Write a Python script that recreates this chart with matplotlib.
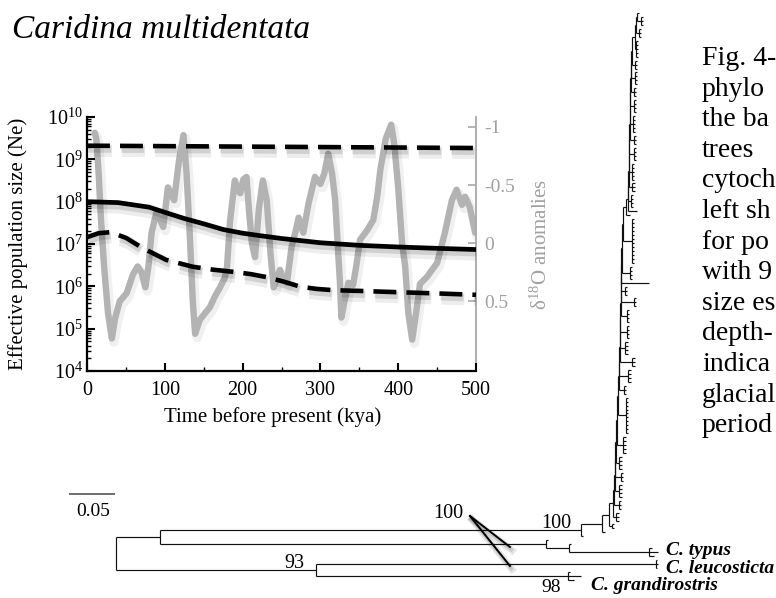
import numpy as np
import matplotlib
matplotlib.use('Agg')
import matplotlib.pyplot as plt
import matplotlib.patheffects as pe
from matplotlib.collections import LineCollection
from matplotlib.lines import Line2D
from matplotlib.ticker import LogLocator, LogFormatterMathtext, MultipleLocator, FixedLocator, FixedFormatter, NullFormatter

plt.rcParams['font.family'] = ['Liberation Serif', 'DejaVu Serif']
plt.rcParams['mathtext.fontset'] = 'custom'
plt.rcParams['mathtext.rm'] = 'Liberation Serif'
plt.rcParams['mathtext.it'] = 'Liberation Serif:italic'
plt.rcParams['mathtext.bf'] = 'Liberation Serif:bold'

# ---------------- inset data (skyline plot) ----------------
median_time = [0, 40, 80, 100, 125, 150, 175, 200, 225, 250, 275, 300, 350, 400, 450, 500]
median_ne = [1.0e8, 9.5e7, 7.4e7, 5.6e7, 4.0e7, 3.0e7, 2.2e7, 1.8e7, 1.55e7, 1.35e7,
             1.2e7, 1.07e7, 9.3e6, 8.5e6, 7.9e6, 7.4e6]
upper_time = [0, 100, 200, 300, 400, 500]
upper_ne = [2.1e9, 2.05e9, 2.0e9, 1.95e9, 1.9e9, 1.85e9]
lower_time = [0, 15, 30, 50, 72, 102, 136, 160, 188, 210, 231, 255, 274, 295, 317, 350, 387, 450, 500]
lower_ne = [1.45e7, 1.8e7, 1.9e7, 1.4e7, 7.9e6, 4.2e6, 2.9e6, 2.5e6, 2.2e6, 1.95e6, 1.65e6,
            1.26e6, 9.8e5, 8.7e5, 8.1e5, 7.8e5, 7.4e5, 6.8e5, 6.3e5]

d18o_time = [10, 12, 15, 18, 22, 27, 32, 36, 42, 51, 59, 65, 70, 75, 79, 83, 89, 94, 98, 104,
             108, 112, 118, 124, 128, 132, 136, 139, 145, 152, 158, 165, 171, 177, 180, 184, 190,
             194, 197, 201, 205, 208, 212, 216, 221, 226, 231, 236, 240, 244, 248, 252, 257, 263,
             268, 272, 278, 285, 293, 300, 305, 310, 315, 319, 323, 325, 327, 331, 336, 342, 346,
             351, 360, 368, 373, 377, 384, 391, 395, 400, 405, 409, 413, 418, 423, 428, 437, 450,
             460, 469, 475, 482, 486, 492, 499]
d18o_val = [-0.95, -0.9, -0.6, -0.2, 0.2, 0.6, 0.82, 0.65, 0.5, 0.43, 0.27, 0.2, 0.25, 0.38, 0.2,
            -0.09, -0.26, -0.2, -0.14, -0.48, -0.42, -0.37, -0.7, -0.93, -0.6, -0.09, 0.5, 0.78,
            0.66, 0.6, 0.55, 0.45, 0.38, 0.3, 0.2, -0.2, -0.54, -0.45, -0.43, -0.55, -0.57, -0.3,
            0.0, 0.12, -0.3, -0.54, -0.37, 0.1, 0.38, 0.3, 0.23, 0.3, 0.34, 0.03, -0.1, -0.22,
            -0.09, -0.35, -0.57, -0.51, -0.6, -0.77, -0.6, -0.37, 0.1, 0.32, 0.64, 0.5, 0.34, 0.36,
            0.2, -0.03, -0.11, -0.2, -0.4, -0.63, -0.9, -1.02, -0.85, -0.48, 0.0, 0.2, 0.6, 0.83,
            0.6, 0.35, 0.29, 0.17, -0.09, -0.37, -0.46, -0.33, -0.4, -0.31, -0.09]

x_ticks = [0, 100, 200, 300, 400, 500]
d18o_ticks = [-1, -0.5, 0, 0.5]
d18o_tick_labels = ['-1', '-0.5', '0', '0.5']

# ---------------- tree data (depths in substitutions/site from the root) ----------------
# backbone of the C. multidentata clade, from its base upward
bb_depth = [0.5054, 0.5283, 0.5359, 0.5402, 0.5413, 0.5424, 0.5429, 0.5435, 0.5446, 0.5457,
            0.5467, 0.5467, 0.5473, 0.5478, 0.5478, 0.5484, 0.5484, 0.5489, 0.5489, 0.5500,
            0.5511, 0.5543, 0.5565, 0.5565, 0.5571, 0.5576, 0.5576, 0.5582, 0.5587, 0.5587,
            0.5598, 0.5603, 0.5609, 0.5641, 0.5652, 0.5663]
side_n = [1, 1, 2, 3, 3, 4, 3, 4, 5, 10, 3, 4, 3, 4, 4, 4, 3, 3, 1, 4, 12, 1,
          1, 4, 3, 5, 4, 3, 5, 4, 3, 4, 3, 5, 3, 3]
side_stem = [0.0022, 0.0033, 0.0033, 0.0033, 0.0054, 0.0043, 0.0065, 0.0033, 0.0065, 0.0087,
             0.0054, 0.0098, 0.0141, 0.0054, 0.0076, 0.0065, 0.0141, 0.0043, 0.0304, 0.0087,
             0.0098, 0.0043, 0.0098, 0.0033, 0.0043, 0.0033, 0.0054, 0.0043, 0.0033, 0.0043,
             0.0033, 0.0043, 0.0033, 0.0011, 0.0033, 0.0043]
side_twig = [0.0, 0.0, 0.0022, 0.0033, 0.0022, 0.0033, 0.0022, 0.0033, 0.0033, 0.0022,
             0.0022, 0.0033, 0.0022, 0.0033, 0.0022, 0.0022, 0.0022, 0.0022, 0.0, 0.0022,
             0.0022, 0.0, 0.0, 0.0022, 0.0022, 0.0022, 0.0022, 0.0022, 0.0022, 0.0022,
             0.0022, 0.0022, 0.0022, 0.0022, 0.0022, 0.0022]
top_tip_len = 0.0022
node_a_depth = 0.0478
node_b_depth = 0.2174
typus_nodes = [0.4674, 0.4924, 0.5793]
typus_tips = [0.4696, 0.4946, 0.5826, 0.5891, 0.5848]
leuco_node = 0.5870
leuco_tips = [0.5880, 0.5891, 0.5880]
grandi_node = 0.4913
grandi_tips = [0.4935, 0.5054, 0.4978]
scale_bar = 0.05

# caption column (the part visible inside the frame)
caption = ['Fig. 4-', 'phylo', 'the ba', 'trees', 'cytoch', 'left sh', 'for po',
           'with 9', 'size es', 'depth-', 'indica', 'glacial', 'period']

# ---------------- figure ----------------
W, H = 776, 598
fig = plt.figure(figsize=(W / 100, H / 100), dpi=100)


def fx(px):
    return px / W


def fy(py):
    return 1 - py / H


# ---- tree ----
def tip(x):
    return {'x': x, 'ch': []}


def node(x, ch):
    return {'x': x, 'ch': ch}


def side(x0, n, stem, twig):
    if n == 1:
        return tip(x0 + stem)
    return node(x0 + stem, [tip(x0 + stem + twig) for _ in range(n)])


def ladder(k):
    x = bb_depth[k]
    s = side(x, side_n[k], side_stem[k], side_twig[k])
    up = ladder(k + 1) if k + 1 < len(bb_depth) else tip(x + top_tip_len)
    return node(x, [up, s])


typus = node(typus_nodes[0], [tip(typus_tips[0]),
             node(typus_nodes[1], [tip(typus_tips[1]),
                  node(typus_nodes[2], [tip(t) for t in typus_tips[2:]])])])
leuco = node(leuco_node, [tip(t) for t in leuco_tips])
grandi = node(grandi_node, [tip(t) for t in grandi_tips])
root = node(0.0, [node(node_a_depth, [ladder(0), typus]),
                  node(node_b_depth, [leuco, grandi])])

counter = [0]


def layout(nd):
    if not nd['ch']:
        nd['y'] = counter[0]
        counter[0] += 1
    else:
        for c in nd['ch']:
            layout(c)
        nd['y'] = 0.5 * (nd['ch'][0]['y'] + nd['ch'][-1]['y'])


layout(root)
n_tips = counter[0]
segs = []


def collect(nd):
    if nd['ch']:
        segs.append([(nd['x'], nd['ch'][0]['y']), (nd['x'], nd['ch'][-1]['y'])])
        for c in nd['ch']:
            segs.append([(nd['x'], c['y']), (c['x'], c['y'])])
            collect(c)


collect(root)

top_px, bottom_px = 13.0, 580.0
step = (bottom_px - top_px) / (n_tips - 1)
px_per_unit = 920.0
root_px = 116.0
axt = fig.add_axes([0, 0, 1, 1])
axt.set_xlim(-root_px / px_per_unit, (W - root_px) / px_per_unit)
axt.set_ylim((H - top_px) / step, -top_px / step)
axt.axis('off')
axt.add_collection(LineCollection(segs, colors='#111111', linewidths=0.85))

# scale bar
axt.plot([-(root_px - 69) / px_per_unit, -(root_px - 69) / px_per_unit + scale_bar],
         [(494 - top_px) / step] * 2, color='#555555', lw=1.2, solid_capstyle='butt')
fig.text(fx(93), fy(511), '0.05', ha='center', va='center', fontsize=14)

# tip labels
lab = dict(fontsize=14, fontweight='bold', fontstyle='italic', va='baseline', ha='left')
fig.text(fx(666), fy(555), 'C. typus', **lab)
fig.text(fx(666), fy(573), 'C. leucosticta', **lab)
fig.text(fx(591), fy(590), 'C. grandirostris', **lab)

# support values
sup = dict(fontsize=14.5, ha='center', va='center')
fig.text(fx(448), fy(514), '100', **sup)
fig.text(fx(556), fy(524), '100', **sup)
fig.text(fx(294), fy(563), '93', **sup)
fig.text(fx(551), fy(588), '98', fontsize=14, ha='center', va='center')
shadow = [pe.SimpleLineShadow(offset=(1.5, -2.5), shadow_color='k', alpha=0.10, linewidth=5),
          pe.SimpleLineShadow(offset=(1.0, -2.0), shadow_color='k', alpha=0.12, linewidth=2.5),
          pe.Normal()]
for ty in (547, 566):
    fig.add_artist(Line2D([fx(470), fx(510)], [fy(516), fy(ty)], transform=fig.transFigure,
                          color='k', lw=1.4, path_effects=shadow))

# ---- title and caption text ----
fig.text(fx(12), fy(38), 'Caridina multidentata', fontsize=24, fontstyle='italic',
         va='baseline', ha='left')
for i, line in enumerate(caption):
    fig.text(fx(702), fy(65 + i * 30.6), line, fontsize=20, va='baseline', ha='left')

# ---- inset ----
ax = fig.add_axes([fx(87), fy(371), fx(476) - fx(87), fy(117) - fy(371)])
ax2 = ax.twinx()
ax.set_zorder(ax2.get_zorder() + 1)
ax.patch.set_visible(False)

gray = '#b3b3b3'
gshadow = [pe.SimpleLineShadow(offset=(1.5, -2.5), shadow_color='k', alpha=0.06, linewidth=7),
           pe.Normal()]
ax2.plot(d18o_time, d18o_val, color=gray, lw=4.6, solid_joinstyle='round',
         solid_capstyle='round', path_effects=gshadow)
ax2.set_ylim(1.10, -1.086)
ax2.yaxis.set_major_locator(FixedLocator(d18o_ticks))
ax2.yaxis.set_major_formatter(FixedFormatter(d18o_tick_labels))
ax2.tick_params(axis='y', direction='in', length=6, width=1.2, color='#a8a8a8',
                labelcolor='#a0a0a0', labelsize=14, pad=6)
for s in ('top', 'left', 'bottom'):
    ax2.spines[s].set_visible(False)
ax2.spines['right'].set_color('#a8a8a8')
ax2.spines['right'].set_linewidth(1.3)
ax2.set_ylabel(r'δ$^{18}$O anomalies', color='#a0a0a0', fontsize=15, rotation=90)
ax2.yaxis.set_label_coords(1.141, 0.5)

bshadow = [pe.SimpleLineShadow(offset=(1.5, -3.5), shadow_color='k', alpha=0.07, linewidth=9),
           pe.SimpleLineShadow(offset=(1.0, -2.5), shadow_color='k', alpha=0.12, linewidth=5),
           pe.Normal()]
ax.plot(upper_time, upper_ne, color='k', lw=3.3, dashes=(5.0, 2.2), path_effects=bshadow)
ax.plot(lower_time, lower_ne, color='k', lw=3.3, dashes=(5.0, 2.2), path_effects=bshadow)
ax.plot(median_time, median_ne, color='k', lw=3.4, solid_capstyle='butt',
        solid_joinstyle='round', path_effects=bshadow)

ax.set_yscale('log')
ax.set_ylim(1e4, 1e10)
ax.set_xlim(0, 500)
ax.xaxis.set_major_locator(FixedLocator(x_ticks))
ax.xaxis.set_minor_locator(MultipleLocator(50))
ax.yaxis.set_major_locator(LogLocator(base=10, numticks=10))
ax.yaxis.set_major_formatter(LogFormatterMathtext())
ax.yaxis.set_minor_locator(LogLocator(base=10, subs=np.arange(2, 10), numticks=20))
ax.yaxis.set_minor_formatter(NullFormatter())
ax.tick_params(axis='both', which='major', direction='in', length=6, width=1.5,
               labelsize=14.5, top=False, right=False)
ax.tick_params(axis='both', which='minor', direction='in', length=3, width=1.0,
               top=False, right=False)
ax.tick_params(axis='y', pad=3)
ax.tick_params(axis='x', pad=7)
ax.spines['top'].set_visible(False)
ax.spines['right'].set_visible(False)
ax.spines['left'].set_linewidth(1.6)
ax.spines['bottom'].set_linewidth(1.6)
ax.set_xlabel('Time before present (kya)', fontsize=15)
ax.xaxis.set_label_coords(0.476, -0.142)
ax.set_ylabel('Effective population size (Ne)', fontsize=15)
ax.yaxis.set_label_coords(-0.152, 0.5)

fig.savefig('out.png', dpi=100)
